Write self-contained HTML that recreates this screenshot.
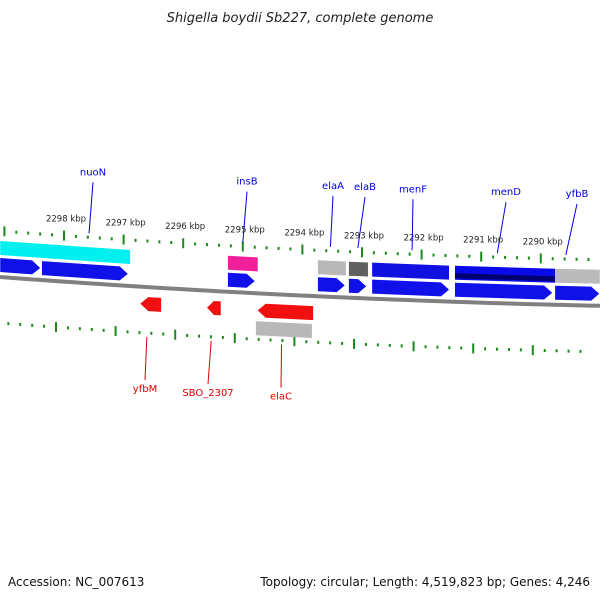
<!DOCTYPE html>
<html><head><meta charset="utf-8"><style>
body{margin:0;background:#fff;}
svg{display:block;font-family:"DejaVu Sans","Liberation Sans",sans-serif;}
</style></head><body>
<svg id="map" width="600" height="600" viewBox="0 0 600 600">
<text x="300" y="22" text-anchor="middle" font-size="13" font-style="italic" fill="#222">Shigella boydii Sb227, complete genome</text>
<text x="8" y="586" font-size="12" fill="#111">Accession: NC_007613</text>
<text x="590" y="586" font-size="12" fill="#111" text-anchor="end">Topology: circular; Length: 4,519,823 bp; Genes: 4,246</text>
</svg>
<script>
// data (kbp)
const tickKbp=[2299,2298,2297,2296,2295,2294,2293,2292,2291,2290,2289];
const tickLabels=["","2298 kbp","2297 kbp","2296 kbp","2295 kbp","2294 kbp","2293 kbp","2292 kbp","2291 kbp","2290 kbp",""];
const geneStart=[2299.07,2298.37,2295.25,2293.74,2293.22,2292.83,2291.44,2289.76,2296.72,2295.60,2294.75];
const geneEnd=[2298.40,2296.93,2294.80,2293.29,2292.93,2291.54,2289.81,2289.02,2296.37,2295.37,2293.82];
const geneStrand=[1,1,1,1,1,1,1,1,-1,-1,-1];
const featStart=[2299.07,2295.25,2293.74,2293.22,2292.83,2291.44,2289.76,2294.78];
const featEnd=[2296.89,2294.75,2293.27,2292.90,2291.54,2289.76,2289.01,2293.84];
const featColor=["#00f0f0","#f0209a","#b8b8b8","#606060","#1010e0","#0a0ae8","#bbbbbb","#b8b8b8"];
const featRow=[-1,-1,-1,-1,-1,-1,-1,1];
const labelNames=["nuoN","insB","elaA","elaB","menF","menD","yfbB","yfbM","SBO_2307","elaC"];
const labelKbp=[2297.58,2295.00,2293.53,2293.07,2292.16,2290.73,2289.58,2296.61,2295.53,2294.35];
const labelSide=[1,1,1,1,1,1,1,-1,-1,-1];
const labelNameX=[93,247,333,365,413,506,577,145,208,281];

const NS="http://www.w3.org/2000/svg";
const svg=document.getElementById('map');
const X=k=>64+(2298-k)*59.6;
const F=x=>0.075*x-0.000045*x*x;
const Y=(x,off)=>277+F(x)+off;
function mk(t,a){const e=document.createElementNS(NS,t);for(const k in a)e.setAttribute(k,a[k]);svg.appendChild(e);return e;}
function band(x1,x2,off,h){const a=Math.min(x1,x2),b=Math.max(x1,x2);
 return `${a},${Y(a,off-h/2)} ${b},${Y(b,off-h/2)} ${b},${Y(b,off+h/2)} ${a},${Y(a,off+h/2)}`;}
// backbone
let d="";for(let x=0;x<=600;x+=10)d+=(x?"L":"M")+x+","+Y(x,0);
const bb=mk('path',{d:d,stroke:'#808080','stroke-width':4,fill:'none'});


// ticks
for(let i=0;i<tickKbp.length;i++){
 for(let j=0;j<5;j++){
  const k=tickKbp[i]-j*0.2;const x=X(k);
  if(x<0||x>600)continue;
  const len=j==0?10:3;
  for(const [off,sh] of [[-46,0],[46,-8]]){
   const xx=x+sh;
   const t=mk('line',{x1:xx,x2:xx,y1:Y(xx,off)-len/2,y2:Y(xx,off)+len/2,stroke:'#1a8a1a','stroke-width':2});
   
   
  }
 }
 const x=X(tickKbp[i]);
 if(tickLabels[i]){const tl=mk('text',{x:x+2,y:Y(x,-60),'font-size':8.5,'text-anchor':'middle',fill:'#222'});tl.textContent=tickLabels[i];
  
  }
}
// features
for(let i=0;i<featStart.length;i++){
 const off=featRow[i]<0?-29:35;
 const p=mk('polygon',{points:band(X(featStart[i]),X(featEnd[i]),off,14),fill:featColor[i]});
 
 
 if(i==5){const n=mk('polygon',{points:band(X(featStart[i]),X(featEnd[i]),off+3,5),fill:'#000070'});
  
  }
}
// genes arrows
for(let i=0;i<geneStart.length;i++){
 const s=geneStrand[i];const off=s>0?-12:17;
 const a=X(geneStart[i]),b=X(geneEnd[i]);const h=7;const tip=Math.min(8,Math.abs(b-a)/2);
 let pts;
 if(s>0){pts=[[a,Y(a,off-h)],[b-tip,Y(b-tip,off-h)],[b,Y(b,off)],[b-tip,Y(b-tip,off+h)],[a,Y(a,off+h)]];}
 else{pts=[[a+tip,Y(a+tip,off-h)],[b,Y(b,off-h)],[b,Y(b,off+h)],[a+tip,Y(a+tip,off+h)],[a,Y(a,off)]];}
 const g=mk('polygon',{points:pts.map(p=>p.join(',')).join(' '),fill:s>0?'#1010e8':'#f01010'});
 
 
}
// labels
for(let i=0;i<labelNames.length;i++){
 const x=X(labelKbp[i]);const up=labelSide[i]>0;const col=up?'#0000e0':'#e00000';
 const y1=up?Y(x,-50):Y(x,50);const ty=up?y1-58:y1+52;
 const l=mk('line',{x1:x,y1:y1,x2:labelNameX[i],y2:up?ty+7:ty-9,stroke:col,'stroke-width':1});
 
 
 const t=mk('text',{x:labelNameX[i],y:up?ty:ty+3,'font-size':10,'text-anchor':'middle',fill:col});
 t.textContent=labelNames[i];
 
 
}
</script>
</body></html>
